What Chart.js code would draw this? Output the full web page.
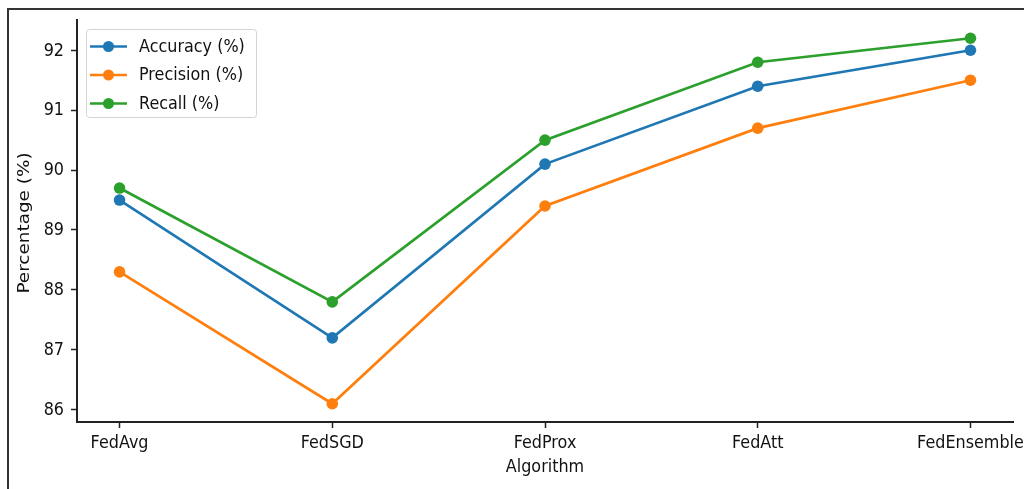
<!DOCTYPE html>
<html>
<head>
<meta charset="utf-8">
<script src="https://cdn.jsdelivr.net/npm/chart.js@4/dist/chart.umd.min.js"></script>
<style>
    html, body { margin: 0; padding: 0; background: #fff; }
    #wrap { position: relative; width: 1024px; height: 489px; overflow: hidden; }
    #frame { position: absolute; left: 7px; top: 8px; right: -4px; bottom: -4px; border-top: 2px solid #333; border-left: 2px solid #333; pointer-events: none; }
</style>
</head>
<body>
<div id="wrap">
    <canvas id="chart" width="1024" height="489"></canvas>
    <div id="frame"></div>
</div>
<script>
const categories = ['FedAvg', 'FedSGD', 'FedProx', 'FedAtt', 'FedEnsemble'];
const accuracy = [89.5, 87.2, 90.1, 91.4, 92.0];
const precision = [88.3, 86.1, 89.4, 90.7, 91.5];
const recall = [89.7, 87.8, 90.5, 91.8, 92.2];
const yTicks = [86, 87, 88, 89, 90, 91, 92];

const FONT = "'DejaVu Sans', sans-serif";
const TEXT = '#111';
const SY = 1.15; // the reference picture is a bit taller than wide, text looks stretched

// matplotlib style autoscale margins (5%)
const all = accuracy.concat(precision, recall);
const lo = Math.min(...all), hi = Math.max(...all);
const pad = (hi - lo) * 0.05;

const toPoints = arr => arr.map((v, i) => ({ x: i, y: v }));

const series = [
    { label: 'Accuracy (%)', data: accuracy, color: '#1f77b4' },
    { label: 'Precision (%)', data: precision, color: '#ff7f0e' },
    { label: 'Recall (%)', data: recall, color: '#2ca02c' }
];

function stretchedText(ctx, str, x, y, align, rotate) {
    ctx.save();
    ctx.translate(x, y);
    ctx.scale(1, SY);
    if (rotate) ctx.rotate(-Math.PI / 2);
    ctx.font = '16px ' + FONT;
    ctx.fillStyle = TEXT;
    ctx.textAlign = align;
    ctx.textBaseline = 'middle';
    ctx.fillText(str, 0, 0);
    ctx.restore();
}

// tick labels and axis titles, placed from the chart's own scales
const axisText = {
    id: 'axisText',
    afterDraw(chart) {
        const ctx = chart.ctx;
        const xs = chart.scales.x, ys = chart.scales.y;
        const area = chart.chartArea;
        yTicks.forEach(v => stretchedText(ctx, String(v), 64, ys.getPixelForValue(v) + 0.5, 'right'));
        categories.forEach((c, i) => stretchedText(ctx, c, xs.getPixelForValue(i), 443, 'center'));
        stretchedText(ctx, 'Algorithm', (area.left + area.right) / 2, 467, 'center');
        stretchedText(ctx, 'Percentage (%)', 25, (area.top + area.bottom) / 2 + 2, 'center', true);
    }
};

// legend box drawn inside the plot, top left, like matplotlib
const boxLegend = {
    id: 'boxLegend',
    afterDraw(chart) {
        const ctx = chart.ctx;
        const x0 = 86.5, y0 = 29.5, w = 170, h = 88;
        ctx.save();
        ctx.beginPath();
        ctx.roundRect(x0, y0, w, h, 3);
        ctx.fillStyle = 'rgba(255,255,255,0.8)';
        ctx.fill();
        ctx.strokeStyle = '#d4d4d4';
        ctx.lineWidth = 1;
        ctx.stroke();
        chart.data.datasets.forEach((ds, i) => {
            const y = 46.5 + i * 28.5;
            ctx.strokeStyle = ds.borderColor;
            ctx.lineWidth = 2.7;
            ctx.beginPath();
            ctx.moveTo(90, y);
            ctx.lineTo(127, y);
            ctx.stroke();
            ctx.fillStyle = ds.borderColor;
            ctx.beginPath();
            ctx.arc(108.5, y, 5.5, 0, Math.PI * 2);
            ctx.fill();
            stretchedText(ctx, ds.label, 139, y + 0.5, 'left');
        });
        ctx.restore();
    }
};

const chart = new Chart(document.getElementById('chart'), {
    type: 'line',
    data: {
        datasets: series.map(s => ({
            label: s.label,
            data: toPoints(s.data),
            borderColor: s.color,
            backgroundColor: s.color,
            borderWidth: 2.7,
            pointRadius: 5.8,
            pointBorderWidth: 0,
            pointBackgroundColor: s.color,
            tension: 0,
            clip: false
        }))
    },
    options: {
        responsive: false,
        animation: false,
        layout: { padding: { top: 20, right: 11, left: 0, bottom: 0 } },
        plugins: {
            legend: { display: false },
            tooltip: { enabled: false }
        },
        scales: {
            x: {
                type: 'linear',
                min: -0.2,
                max: 4.2,
                afterBuildTicks: axis => { axis.ticks = categories.map((c, i) => ({ value: i })); },
                afterFit: axis => { axis.height = 67; axis.paddingLeft = 0; axis.paddingRight = 0; },
                ticks: { display: false },
                grid: { drawOnChartArea: false, drawTicks: true, tickLength: 6, tickWidth: 1.5, tickColor: '#222' },
                border: { display: true, color: '#222', width: 2 }
            },
            y: {
                min: lo - pad,
                max: hi + pad,
                afterBuildTicks: axis => { axis.ticks = yTicks.map(v => ({ value: v })); },
                afterFit: axis => { axis.width = 77; axis.paddingTop = 0; axis.paddingBottom = 0; },
                ticks: { display: false },
                grid: { drawOnChartArea: false, drawTicks: true, tickLength: 6, tickWidth: 1.5, tickColor: '#222' },
                border: { display: true, color: '#222', width: 2 }
            }
        }
    },
    plugins: [axisText, boxLegend]
});
</script>
</body>
</html>
